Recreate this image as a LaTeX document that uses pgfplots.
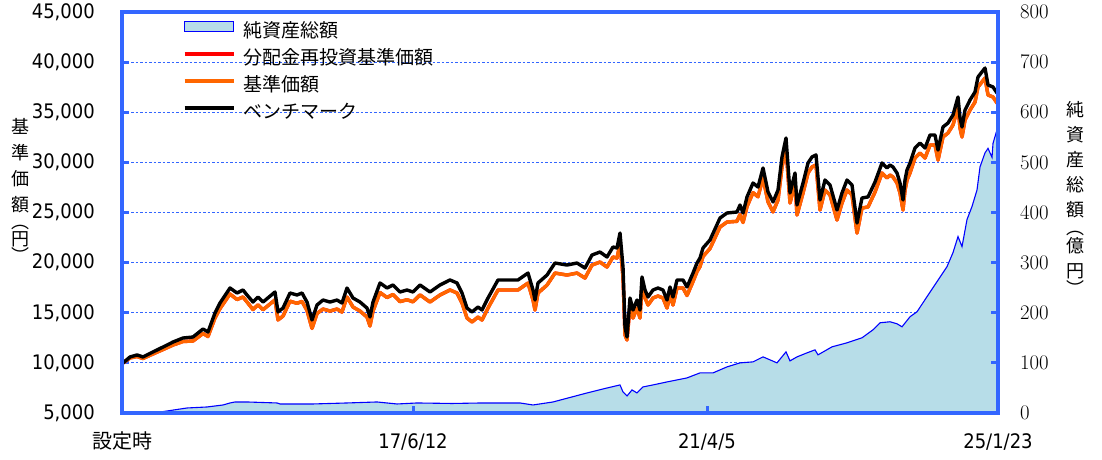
\documentclass[border=0pt]{standalone}
\usepackage{pgfplots}
\pgfplotsset{compat=1.18}
\usepackage{pgfplotstable}
\usepackage{fontspec}
\setmainfont{Noto Sans CJK JP}
\newfontfamily\jp{Noto Sans CJK JP}
\newfontfamily\numfont{DejaVu Sans Condensed}
\definecolor{frameblue}{RGB}{51,102,255}
\definecolor{navfill}{RGB}{183,221,232}
\definecolor{navline}{RGB}{0,0,255}
\definecolor{fundorange}{RGB}{255,102,0}
\definecolor{fundred}{RGB}{255,0,0}

\pgfplotstableread{
x b f
0 10000 10000
1 9990 9990
8 10590 10490
15 10790 10640
21 10590 10440
31 11090 10890
41 11580 11330
51 12080 11780
61 12480 12130
71 12580 12180
81 13380 12930
86 13080 12630
93 14980 14480
98 15970 15420
108 17470 16870
115 16970 16320
121 17270 16570
125 16770 16070
131 16070 15320
136 16570 15800
141 16070 15300
153 17070 16280
156 15080 14280
161 15470 14670
168 16970 16150
175 16770 15940
180 16970 16130
185 16070 15230
190 14280 13440
195 15770 14920
201 16270 15370
208 16070 15170
215 16270 15370
220 15970 15070
225 17470 16570
231 16470 15570
238 16070 15170
245 15470 14570
248 14580 13680
251 16070 15170
258 17970 17020
265 17470 16520
271 17770 16820
278 17070 16110
285 17270 16300
291 17070 16090
298 17770 16780
308 17070 16070
318 17770 16770
328 18270 17270
335 17970 16970
340 16970 15970
345 15470 14470
350 15080 14080
356 15570 14570
360 15270 14270
366 16470 15470
376 18270 17270
388 18270 17270
396 18270 17270
406 18960 17960
411 17270 16270
413 16270 15270
416 17970 16970
425 18760 17760
433 19960 18960
445 19760 18760
455 19960 18960
463 19460 18460
470 20760 19760
478 21060 20060
485 20560 19560
491 21560 20560
495 21460 20460
498 22950 21850
501 19560 18560
503 13580 12780
505 12580 12280
508 16470 15670
511 15270 14470
515 16270 15470
518 15270 14470
520 18570 17770
523 17270 16470
526 16570 15770
531 17270 16470
536 17470 16670
541 17270 16470
545 16270 15470
548 17570 16770
551 16570 15770
555 18270 17470
561 18270 17470
565 17570 16720
571 18960 18110
575 19960 19110
578 20460 19610
581 21460 20610
588 22260 21410
598 24450 23550
605 24950 24050
615 25050 24120
618 25750 24820
621 24950 24000
625 26550 25600
631 27940 26980
636 27540 26570
641 29440 28460
646 27050 26060
651 26050 25060
656 27240 26240
660 30540 29540
664 32430 31430
668 26950 25950
673 28940 27940
675 25750 24750
681 27940 26940
686 29940 28940
690 30540 29540
694 30740 29740
698 26250 25250
703 28240 27240
708 27740 26740
715 25250 24250
720 26950 25950
725 28240 27240
730 27740 26740
735 23950 22950
740 26450 25450
746 26550 25550
753 28040 27040
760 29940 28940
765 29440 28440
768 29740 28740
771 29540 28540
775 28940 27940
778 27940 26940
781 26250 25250
783 28240 27240
785 29240 28240
788 29940 28940
793 31430 30430
798 31930 30930
803 31430 30430
808 32730 31730
813 32730 31730
816 31230 30230
821 33530 32530
826 33930 32930
831 34730 33730
836 36520 35520
838 34430 33430
840 33530 32530
843 35220 34220
848 36220 35220
853 37020 36020
856 38520 37520
863 39410 38410
866 37720 36720
871 37520 36520
875 36920 35920
876 37220 36220
}\pricetable

\pgfplotstableread{
x n
0 0
35 1
45 4
65 10
85 12
101 16
108 20
113 22
125 22
155 20
158 18
191 18
225 20
255 22
275 18
295 20
330 19
360 20
398 20
411 16
431 22
465 40
481 48
498 56
501 42
505 34
510 46
515 40
521 52
531 56
545 62
565 70
578 80
591 80
605 92
618 100
631 102
641 112
655 100
664 122
668 104
675 112
685 120
693 126
696 116
710 132
725 140
740 150
751 166
758 180
768 182
775 178
780 172
788 192
795 202
805 232
815 262
825 292
831 320
836 352
840 332
845 386
850 412
855 445
858 491
863 519
866 528
870 510
871 538
875 565
876 568
}\navtable

\pgfplotsset{
  arealegend/.style={legend image code/.code={\draw[##1] (0pt,1pt) rectangle (49pt,11.5pt);}},
  linelegend/.style={legend image code/.code={\draw[##1] (0pt,6pt) -- (49pt,6pt);}},
}

\begin{document}
\begin{tikzpicture}
\path[use as bounding box] (0pt,0pt) rectangle (1102pt,460pt);

% axis 1: left scale, grid, x ticks
\begin{axis}[
  at={(122pt,47pt)}, anchor=south west,
  width=876pt, height=401pt, scale only axis,
  xmin=0, xmax=876,
  ymin=5000, ymax=45000,
  separate axis lines,
  every outer x axis line/.append style={frameblue, line width=3.3pt},
  every outer y axis line/.append style={frameblue, line width=3.3pt},
  every tick/.style={frameblue, line width=3pt},
  major tick length=7pt,
  tick align=inside,
  ytick={5000,10000,15000,20000,25000,30000,35000,40000,45000},
  yticklabels={{5,000},{10,000},{15,000},{20,000},{25,000},{30,000},{35,000},{40,000},{45,000}},
  ytick pos=left,
  ymajorgrids,
  grid style={frameblue, line width=0.9pt, dash pattern=on 2.5pt off 2pt},
  xtick={0,291,585,876},
  xticklabels={{\jp 設定時},17/6/12,21/4/5,25/1/23},
  xtick pos=bottom,
  yticklabel style={font=\numfont\fontsize{20}{24}\selectfont, anchor=east, inner sep=0pt, xshift=-27pt},
  xticklabel style={font=\numfont\fontsize{20}{24}\selectfont, anchor=base, inner sep=0pt, yshift=-36pt},
]
\end{axis}

% axis 2: net assets (right scale)
\begin{axis}[
  at={(122pt,47pt)}, anchor=south west,
  width=876pt, height=401pt, scale only axis,
  xmin=0, xmax=876,
  ymin=0, ymax=800,
  separate axis lines,
  every outer x axis line/.append style={frameblue, line width=3.3pt},
  every outer y axis line/.append style={frameblue, line width=3.3pt},
  every tick/.style={frameblue, line width=3pt},
  major tick length=7pt,
  tick align=inside,
  ytick={0,100,200,300,400,500,600,700,800},
  ytick pos=right,
  xtick={291,585},
  xticklabels={},
  xtick pos=bottom,
  axis on top,
  yticklabel style={font=\numfont\fontsize{20}{24}\selectfont, anchor=west, inner sep=0pt, xshift=22pt},
]
\addplot[fill=navfill, draw=navline, line width=1.1pt] table[x=x,y=n] {\navtable} \closedcycle;
\end{axis}

% axis 3: price lines
\begin{axis}[
  at={(122pt,47pt)}, anchor=south west,
  width=876pt, height=401pt, scale only axis,
  xmin=0, xmax=876,
  ymin=5000, ymax=45000,
  hide axis, clip=false,
  linelegend,
  legend style={at={(axis description cs:0.0696,0.978)}, anchor=north west,
    draw=none, fill=none, inner sep=0pt, outer sep=0pt,
    font=\jp\fontsize{19}{22}\selectfont,
    row sep=9pt, column sep=8pt,
    nodes={inner sep=0pt, text height=14pt, text depth=4pt},
    cells={anchor=west}},
]
\addlegendimage{fill=navfill, draw=navline, line width=1.1pt, arealegend}
\addlegendentry{純資産総額}
\addplot[fundred, line width=3.4pt, line join=round] table[x=x,y=f] {\pricetable};
\addlegendentry{分配金再投資基準価額}
\addplot[fundorange, line width=3.4pt, line join=round] table[x=x,y=f] {\pricetable};
\addlegendentry{基準価額}
\addplot[black, line width=3.4pt, line join=round] table[x=x,y=b] {\pricetable};
\addlegendentry{ベンチマーク}
\draw[frameblue, line width=3.3pt] (rel axis cs:0,0) rectangle (rel axis cs:1,1);
\end{axis}

\node[align=center, font=\jp\fontsize{18}{26}\selectfont] at (20pt,270pt)
  {基\\準\\価\\額\\[-9pt]︵\\[-9pt]円\\[-9pt]︶};
\node[align=center, font=\jp\fontsize{18}{25}\selectfont] at (1075pt,262pt)
  {純\\資\\産\\総\\額\\[-7pt]︵\\[-7pt]億\\円\\[-7pt]︶};
\end{tikzpicture}
\end{document}
